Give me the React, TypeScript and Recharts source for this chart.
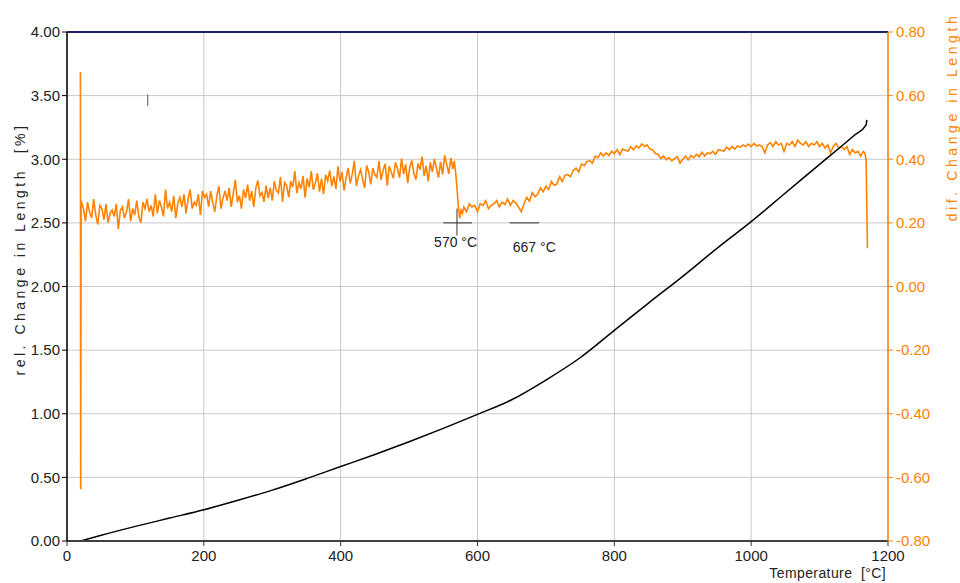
import React from 'react';
import {
  CartesianGrid,
  ComposedChart,
  Line,
  ReferenceDot,
  ReferenceLine,
  XAxis,
  YAxis,
} from 'recharts';

const FONT = '"Liberation Sans", Arial, sans-serif';
const ORANGE = '#ff8200';
const TICK_FS = 15;

const tempTicks = [0, 200, 400, 600, 800, 1000, 1200];
const relTicks = [0, 0.5, 1, 1.5, 2, 2.5, 3, 3.5, 4];
const difTicks = [-0.8, -0.6, -0.4, -0.2, 0, 0.2, 0.4, 0.6, 0.8];

// rel. change in length [%] vs temperature [°C]
const relCurve: [number, number][] = [
  [20, 0.0], [50, 0.045], [100, 0.115], [150, 0.18], [200, 0.245], [250, 0.32],
  [300, 0.4], [350, 0.49], [400, 0.585], [450, 0.68], [500, 0.78], [550, 0.885],
  [600, 0.995], [650, 1.11], [700, 1.265], [750, 1.44], [800, 1.655], [850, 1.87],
  [900, 2.08], [950, 2.3], [1000, 2.51], [1050, 2.735], [1100, 2.96], [1150, 3.185],
  [1168, 3.27], [1169, 3.31],
];

// dif. change in length vs temperature [°C]
const difCurve: [number, number][] = [
  [19.6, 0.674], [20.0, -0.637], [20.6, 0.27],
  [24, 0.245], [27, 0.205], [30, 0.265], [33, 0.235], [36, 0.215], [39, 0.275], [42, 0.225], [45, 0.195], [48, 0.255], [51, 0.245],
  [54, 0.21], [57, 0.26], [60, 0.2], [63, 0.23], [66, 0.24], [69, 0.22], [72, 0.26], [75, 0.18], [78, 0.24], [81, 0.25],
  [84, 0.215], [87, 0.235], [90, 0.275], [93, 0.205], [96, 0.245], [99, 0.225], [102, 0.27], [105, 0.22], [108, 0.2], [111, 0.265],
  [114, 0.245], [117, 0.275], [120, 0.235], [123, 0.255], [126, 0.22], [129, 0.29], [132, 0.23], [135, 0.27], [138, 0.25], [141, 0.22],
  [144, 0.305], [147, 0.245], [150, 0.265], [153, 0.235], [156, 0.285], [159, 0.215], [162, 0.26], [165, 0.28], [168, 0.25], [171, 0.29],
  [174, 0.23], [177, 0.275], [180, 0.305], [183, 0.245], [186, 0.265], [189, 0.255], [192, 0.29], [195, 0.225], [198, 0.3], [201, 0.28],
  [204, 0.29], [207, 0.25], [210, 0.3], [213, 0.265], [216, 0.235], [219, 0.285], [222, 0.315], [225, 0.245], [228, 0.278], [231, 0.3],
  [234, 0.27], [237, 0.31], [240, 0.25], [243, 0.293], [246, 0.335], [249, 0.265], [252, 0.285], [255, 0.245], [258, 0.305], [261, 0.278],
  [264, 0.32], [267, 0.27], [270, 0.3], [273, 0.25], [276, 0.31], [279, 0.333], [282, 0.285], [285, 0.295], [288, 0.266], [291, 0.317],
  [294, 0.278], [297, 0.31], [300, 0.27], [303, 0.331], [306, 0.302], [309, 0.294], [312, 0.345], [315, 0.266], [318, 0.327], [321, 0.318],
  [324, 0.28], [327, 0.331], [330, 0.312], [333, 0.363], [336, 0.294], [339, 0.326], [342, 0.307], [345, 0.348], [348, 0.279], [351, 0.34],
  [354, 0.312], [357, 0.363], [360, 0.304], [363, 0.325], [366, 0.356], [369, 0.298], [372, 0.339], [375, 0.29], [378, 0.351], [381, 0.332],
  [384, 0.364], [387, 0.315], [390, 0.346], [393, 0.307], [396, 0.378], [399, 0.33], [402, 0.36], [405, 0.301], [408, 0.342], [411, 0.373],
  [414, 0.324], [417, 0.354], [420, 0.395], [423, 0.316], [426, 0.347], [429, 0.367], [432, 0.338], [435, 0.309], [438, 0.38], [441, 0.36],
  [444, 0.321], [447, 0.372], [450, 0.352], [453, 0.343], [456, 0.394], [459, 0.335], [462, 0.365], [465, 0.386], [468, 0.317], [471, 0.378],
  [474, 0.359], [477, 0.34], [480, 0.39], [483, 0.371], [486, 0.342], [489, 0.402], [492, 0.353], [495, 0.384], [498, 0.325], [501, 0.375],
  [504, 0.396], [507, 0.356], [510, 0.336], [513, 0.387], [516, 0.367], [519, 0.408], [522, 0.348], [525, 0.379], [528, 0.33], [531, 0.39],
  [534, 0.36], [537, 0.401], [540, 0.371], [543, 0.342], [546, 0.392], [549, 0.352], [552, 0.413], [555, 0.383], [558, 0.354], [561, 0.404],
  [564, 0.37], [566, 0.395], [568, 0.36], [570, 0.31], [572, 0.25], [574, 0.215], [576, 0.24], [578, 0.23],
  [580, 0.25], [584, 0.235], [588, 0.26], [592, 0.25], [596, 0.255], [600, 0.235], [604, 0.26], [608, 0.255], [612, 0.27], [616, 0.245],
  [620, 0.255], [624, 0.26], [628, 0.27], [632, 0.25], [636, 0.265], [640, 0.258], [644, 0.275], [648, 0.255], [652, 0.27], [656, 0.262],
  [660, 0.25], [664, 0.235], [668, 0.26], [672, 0.28], [676, 0.268], [680, 0.295], [684, 0.282], [688, 0.29], [692, 0.31], [696, 0.298],
  [700, 0.315], [704, 0.305], [708, 0.33], [712, 0.318], [716, 0.322], [720, 0.345], [724, 0.33], [728, 0.35], [732, 0.352], [736, 0.345],
  [740, 0.365], [744, 0.372], [748, 0.36], [752, 0.385], [756, 0.38], [760, 0.393], [764, 0.395], [768, 0.388], [772, 0.41], [776, 0.405],
  [780, 0.42], [784, 0.41], [788, 0.42], [792, 0.412], [796, 0.425], [800, 0.418], [804, 0.43], [808, 0.415], [812, 0.432], [816, 0.428],
  [820, 0.425], [824, 0.44], [828, 0.43], [832, 0.442], [836, 0.435], [840, 0.448], [844, 0.44], [848, 0.445], [852, 0.432], [856, 0.43],
  [860, 0.418], [864, 0.415], [868, 0.402], [872, 0.41], [876, 0.398], [880, 0.405], [884, 0.395], [888, 0.402], [892, 0.408], [896, 0.388],
  [900, 0.4], [904, 0.41], [908, 0.398], [912, 0.412], [916, 0.405], [920, 0.415], [924, 0.408], [928, 0.422], [932, 0.41], [936, 0.42],
  [940, 0.418], [944, 0.425], [948, 0.415], [952, 0.43], [956, 0.428], [960, 0.425], [964, 0.438], [968, 0.43], [972, 0.44], [976, 0.432],
  [980, 0.442], [984, 0.438], [988, 0.445], [992, 0.44], [996, 0.448], [1000, 0.44], [1004, 0.45], [1008, 0.442], [1012, 0.445], [1016, 0.44],
  [1020, 0.42], [1024, 0.445], [1028, 0.452], [1032, 0.44], [1036, 0.455], [1040, 0.445], [1044, 0.45], [1048, 0.425], [1052, 0.45], [1056, 0.445],
  [1060, 0.455], [1064, 0.44], [1068, 0.46], [1072, 0.45], [1076, 0.445], [1080, 0.455], [1084, 0.44], [1088, 0.45], [1092, 0.445], [1096, 0.455],
  [1100, 0.44], [1104, 0.45], [1108, 0.435], [1112, 0.445], [1116, 0.42], [1120, 0.44], [1124, 0.45], [1128, 0.435], [1132, 0.44], [1136, 0.43],
  [1140, 0.44], [1144, 0.415], [1148, 0.43], [1152, 0.42], [1156, 0.425], [1160, 0.41], [1164, 0.425], [1166, 0.42], [1168, 0.4], [1169, 0.25],
  [1170, 0.12],
];

const relData = relCurve.map(([t, v]) => ({ t, rel: v }));
const difData = difCurve.map(([t, v]) => ({ t, dif: v }));

const fmt2 = (v: number) => v.toFixed(2);

function AxisTitle(props: any) {
  const { viewBox, text, dx, dy, fill, anchor, spacing } = props;
  const vb = viewBox || { x: 0, y: 0, width: 0, height: 0 };
  const x = vb.x + dx;
  const y = vb.y + dy;
  const horizontal = anchor === 'end';
  return (
    <text
      x={x}
      y={y}
      transform={horizontal ? undefined : `rotate(-90 ${x} ${y})`}
      textAnchor={anchor || 'middle'}
      dominantBaseline={horizontal ? 'auto' : 'central'}
      fill={fill}
      fontSize={14}
      fontFamily={FONT}
      letterSpacing={spacing}
    >
      {text}
    </text>
  );
}

export default function App() {
  return (
    <div style={{ position: 'absolute', left: 0, top: 0, background: '#fff' }}>
      <ComposedChart
        width={960}
        height={583}
        margin={{ top: 32, right: 0, bottom: 0, left: 0 }}
        style={{ fontFamily: FONT }}
      >
        <CartesianGrid yAxisId="left" stroke="#c8c8c8" strokeWidth={1} />
        <XAxis
          dataKey="t"
          type="number"
          domain={[0, 1200]}
          ticks={tempTicks}
          allowDataOverflow
          height={42}
          tickSize={5}
          tickMargin={4}
          stroke="#333"
          axisLine={{ stroke: '#404040', strokeWidth: 2 }}
          tick={{ fill: '#222', fontSize: TICK_FS, fontFamily: FONT }}
          label={<AxisTitle text={'Temperature\u00a0\u00a0[°C]'} dx={819} dy={37} anchor="end" fill="#222" spacing={0.4} />}
        />
        <YAxis
          yAxisId="left"
          orientation="left"
          domain={[0, 4]}
          ticks={relTicks}
          width={67}
          tickSize={5}
          tickMargin={2}
          tickFormatter={fmt2}
          stroke="#000"
          axisLine={{ stroke: '#000', strokeWidth: 1.5 }}
          tick={{ fill: '#222', fontSize: TICK_FS, fontFamily: FONT }}
          label={<AxisTitle text={'rel. Change in Length\u00a0\u00a0[%]'} dx={20} dy={217} fill="#222" spacing={3.5} />}
        />
        <YAxis
          yAxisId="right"
          orientation="right"
          domain={[-0.8, 0.8]}
          ticks={difTicks}
          width={72}
          tickSize={5}
          tickMargin={3}
          tickFormatter={fmt2}
          stroke={ORANGE}
          axisLine={{ stroke: ORANGE, strokeWidth: 1.5 }}
          tick={{ fill: ORANGE, fontSize: TICK_FS, fontFamily: FONT }}
          label={<AxisTitle text="dif. Change in Length" dx={64} dy={85} fill={ORANGE} spacing={3.6} />}
        />
        <ReferenceLine yAxisId="left" y={4} stroke="#20206e" strokeWidth={2} />
        <Line
          yAxisId="right"
          data={difData}
          dataKey="dif"
          type="linear"
          stroke={ORANGE}
          strokeWidth={1.6}
          dot={false}
          isAnimationActive={false}
        />
        <Line
          yAxisId="left"
          data={relData}
          dataKey="rel"
          type="monotone"
          stroke="#000"
          strokeWidth={1.5}
          dot={false}
          isAnimationActive={false}
        />
        <ReferenceLine
          yAxisId="right"
          segment={[{ x: 550, y: 0.2 }, { x: 592, y: 0.2 }]}
          stroke="#333"
          strokeWidth={1}
        />
        <ReferenceLine
          yAxisId="right"
          segment={[{ x: 570, y: 0.245 }, { x: 570, y: 0.16 }]}
          stroke="#333"
          strokeWidth={1}
        />
        <ReferenceLine
          yAxisId="right"
          segment={[{ x: 647, y: 0.2 }, { x: 690, y: 0.2 }]}
          stroke="#333"
          strokeWidth={1}
        />
        <ReferenceLine
          yAxisId="left"
          segment={[{ x: 118, y: 3.51 }, { x: 118, y: 3.42 }]}
          stroke="#555"
          strokeWidth={1}
        />
        <ReferenceDot
          yAxisId="right"
          x={568}
          y={0.14}
          r={0}
          stroke="none"
          fill="none"
          label={{ value: '570 °C', position: 'center', fill: '#222', fontSize: 14, fontFamily: FONT }}
        />
        <ReferenceDot
          yAxisId="right"
          x={683}
          y={0.124}
          r={0}
          stroke="none"
          fill="none"
          label={{ value: '667 °C', position: 'center', fill: '#222', fontSize: 14, fontFamily: FONT }}
        />
      </ComposedChart>
    </div>
  );
}
